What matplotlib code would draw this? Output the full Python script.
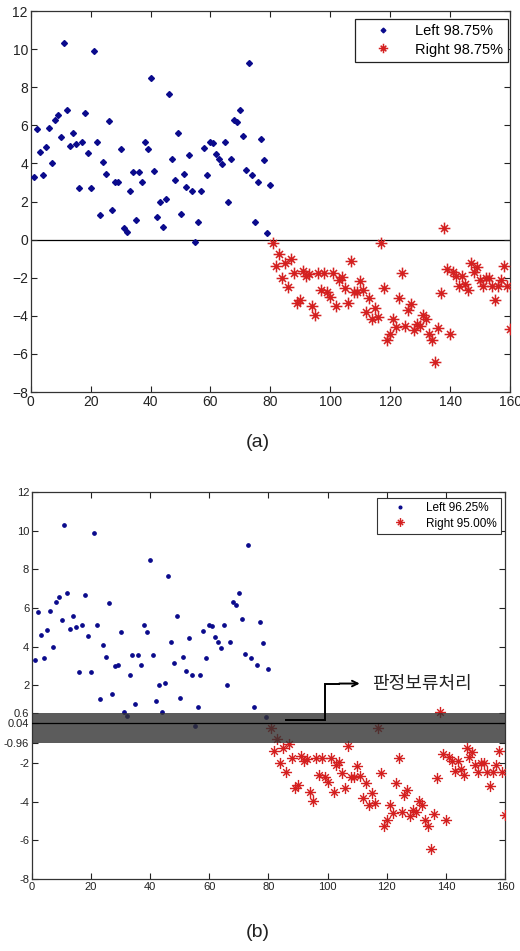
import matplotlib
matplotlib.use('Agg')
import matplotlib.pyplot as plt
from matplotlib.path import Path
import numpy as np

plt.rcParams['font.family'] = ['Liberation Sans', 'Noto Sans CJK KR', 'DejaVu Sans']

## Data: sample number vs. score
left_x = np.arange(1, 81)
left_y = [3.3, 5.8, 4.6, 3.4, 4.85, 5.85, 4.0, 6.3, 6.55, 5.4,
          10.3, 6.8, 4.9, 5.6, 5.0, 2.7, 5.15, 6.65, 4.55, 2.7,
          9.9, 5.1, 1.3, 4.1, 3.45, 6.25, 1.55, 3.0, 3.05, 4.75,
          0.62, 0.4, 2.55, 3.55, 1.05, 3.55, 3.05, 5.1, 4.75, 8.5,
          3.6, 1.2, 2.0, 0.65, 2.15, 7.65, 4.25, 3.15, 5.6, 1.35,
          3.45, 2.75, 4.45, 2.55, -0.1, 0.9, 2.55, 4.8, 3.4, 5.15,
          5.05, 4.5, 4.25, 3.95, 5.1, 2.0, 4.25, 6.3, 6.15, 6.8,
          5.45, 3.65, 9.25, 3.4, 0.9, 3.05, 5.3, 4.2, 0.35, 2.85]

right_x = np.arange(81, 161)
right_y = [-0.2, -1.37, -0.75, -2.0, -1.22, -2.48, -1.02, -1.73, -3.31, -3.15,
           -1.66, -1.9, -1.78, -3.5, -3.97, -1.73, -2.62, -1.73, -2.75, -3.01,
           -1.73, -3.5, -2.1, -1.96, -2.52, -3.31, -1.13, -2.75, -2.75, -2.17,
           -2.66, -3.8, -3.06, -4.18, -3.57, -4.06, -0.2, -2.52, -5.25, -4.97,
           -4.15, -4.59, -3.06, -1.75, -4.53, -3.68, -3.39, -4.76, -4.45, -4.53,
           -3.97, -4.15, -4.97, -5.25, -6.45, -4.64, -2.78, 0.62, -1.52, -4.97,
           -1.69, -1.92, -2.43, -1.9, -2.31, -2.62, -1.25, -1.69, -1.43, -2.13,
           -2.45, -1.99, -1.99, -2.45, -3.18, -2.45, -2.1, -1.39, -2.45, -4.71]

labels_a = ['Left 98.75%', 'Right 98.75%']
labels_b = ['Left 96.25%', 'Right 95.00%']

band_lo, band_mid, band_hi = -0.96, 0.04, 0.6
yticks_a = [-8, -6, -4, -2, 0, 2, 4, 6, 8, 10, 12]
yticks_b = [-8, -6, -4, -2, band_lo, band_mid, band_hi, 2, 4, 6, 8, 10, 12]
ytick_labels_b = ['-8', '-6', '-4', '-2', '-0.96', '0.04', '0.6', '2', '4', '6', '8', '10', '12']
xticks = [0, 20, 40, 60, 80, 100, 120, 140, 160]

## MATLAB-like asterisk: a plus with shorter diagonals
verts = [(-1, 0), (1, 0), (0, -1), (0, 1),
         (-0.6, -0.6), (0.6, 0.6), (-0.6, 0.6), (0.6, -0.6)]
codes = [Path.MOVETO, Path.LINETO] * 4
star = Path(verts, codes)

blue = '#0a0a8c'
red = '#d42020'

fig = plt.figure(figsize=(5.2, 9.51), dpi=100)
ax1 = fig.add_axes([0.059, 0.5878, 0.922, 0.4006])
ax2 = fig.add_axes([0.0615, 0.0757, 0.9096, 0.407])


def style_axes(ax, fs):
    ax.set_xlim(0, 160)
    ax.set_ylim(-8, 12)
    ax.set_xticks(xticks)
    ax.tick_params(direction='in', top=True, right=True, length=4, width=0.8,
                   labelsize=fs, colors='#222222', pad=2)
    for s in ax.spines.values():
        s.set_color('#333333')
        s.set_linewidth(0.9)


## (a)
ax1.axhline(0, color='black', lw=0.9, zorder=1)
ax1.plot(left_x, left_y, 'D', ms=3.0, color=blue, mec=blue, ls='none', label=labels_a[0], zorder=3)
ax1.plot(right_x, right_y, marker=star, ms=8.5, mfc='none', mec=red, mew=1.1, ls='none',
         label=labels_a[1], zorder=3)
style_axes(ax1, 10)
ax1.set_yticks(yticks_a)
leg = ax1.legend(loc='upper right', bbox_to_anchor=(0.996, 0.979), borderaxespad=0,
                 fancybox=False, edgecolor='#222222', framealpha=1, fontsize=10.5,
                 handlelength=3.2, handletextpad=0.6, borderpad=0.35, labelspacing=0.3,
                 markerscale=0.8)
leg.get_frame().set_linewidth(0.9)
fig.text(0.496, 0.535, '(a)', ha='center', va='center', fontsize=14, color='#222222')

## (b)
ax2.plot(left_x, left_y, 'o', ms=2.4, color=blue, mec=blue, ls='none', label=labels_b[0], zorder=3)
ax2.plot(right_x, right_y, marker=star, ms=8, mfc='none', mec=red, mew=1.0, ls='none',
         label=labels_b[1], zorder=3)
ax2.axhspan(band_lo, band_hi, color='#333333', alpha=0.8, lw=0, zorder=4)
ax2.axhline(band_mid, color='black', lw=0.9, zorder=5)
style_axes(ax2, 8)
ax2.set_yticks(yticks_b)
ax2.set_yticklabels(ytick_labels_b)
leg2 = ax2.legend(loc='upper right', bbox_to_anchor=(0.9915, 0.9845), borderaxespad=0,
                  fancybox=False, edgecolor='#333333', framealpha=1, fontsize=8.5,
                  handlelength=3.2, handletextpad=0.6, borderpad=0.35, labelspacing=0.3,
                  markerscale=0.8)
leg2.get_frame().set_linewidth(0.8)

## arrow pointing at the band label
ax2.plot([86, 99.2, 99.2, 104], [0.2, 0.2, 2.1, 2.1], color='black', lw=1.4, zorder=6,
         solid_joinstyle='miter')
ax2.annotate('', xy=(111.8, 2.1), xytext=(103, 2.1),
             arrowprops=dict(arrowstyle='->', color='black', lw=1.4), zorder=6)
ax2.text(115, 2.1, '판정보류처리', fontsize=13, va='center', ha='left', color='#222222',
         family=['Noto Sans CJK KR', 'DejaVu Sans'], zorder=6)
fig.text(0.496, 0.019, '(b)', ha='center', va='center', fontsize=14, color='#222222')

fig.savefig('out.png', dpi=100)
